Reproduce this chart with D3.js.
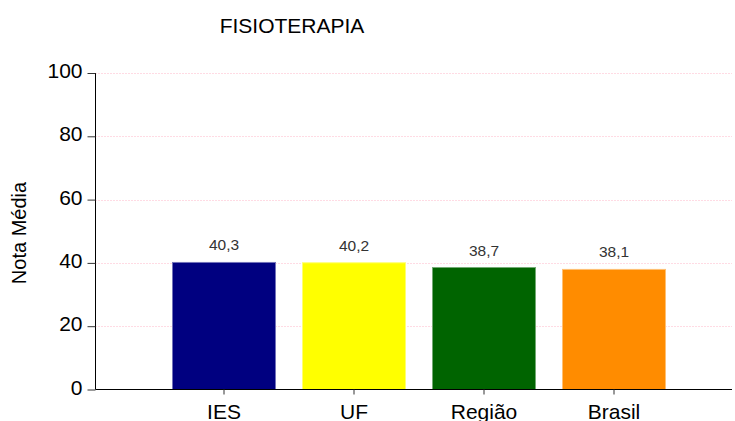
<!DOCTYPE html>
<html><head><meta charset="utf-8">
<script src="https://cdn.jsdelivr.net/npm/d3@7"></script>
<style>body{margin:0;background:#fff}svg{display:block;font-family:"Liberation Sans",Arial,sans-serif}</style>
</head><body>
<svg id="c" width="735" height="421"></svg>
<script>
const title = "FISIOTERAPIA";
const yLabel = "Nota Média";
const categories = ["IES", "UF", "Região", "Brasil"];
const values = [40.3, 40.2, 38.7, 38.1];
const valueLabels = ["40,3", "40,2", "38,7", "38,1"];
const colors = ["#000080", "#ffff00", "#006400", "#ff8c00"];
const yTicks = [0, 20, 40, 60, 80, 100];

(function () {
const svg = d3.select("#c");
const mLeft = 95.5, mRight = 732, mTop = 73, mBottom = 389.5;
const x = d3.scaleBand().domain(categories).range([159, 679]).paddingInner(0.2).paddingOuter(0.1);
const y = d3.scaleLinear().domain([0, 100]).range([mBottom, mTop]);

// gridlines
svg.append("g").selectAll("line").data(yTicks.filter(d => d > 0)).join("line")
  .attr("x1", mLeft).attr("x2", mRight)
  .attr("y1", d => Math.round(y(d)) + 0.5).attr("y2", d => Math.round(y(d)) + 0.5)
  .attr("stroke", "#ffb6c8").attr("stroke-width", 1).attr("stroke-dasharray", "1,2");

// bars
svg.append("g").selectAll("rect").data(categories).join("rect")
  .attr("x", d => x(d) + 0.5).attr("width", x.bandwidth() - 1)
  .attr("y", (d, i) => y(values[i]) + 0.5).attr("height", (d, i) => mBottom - y(values[i]) - 0.5)
  .attr("fill", (d, i) => colors[i])
  .attr("stroke", (d, i) => d3.interpolateRgb(colors[i], "#ffffff")(0.45))
  .attr("stroke-width", 1);

// value labels
svg.append("g").selectAll("text").data(categories).join("text")
  .attr("x", d => x(d) + x.bandwidth() / 2)
  .attr("y", (d, i) => y(values[i]) - 11.5)
  .attr("text-anchor", "middle").attr("font-size", 15.5).attr("fill", "#333")
  .text((d, i) => valueLabels[i]);

// y axis
const yAxis = svg.append("g").attr("transform", `translate(${mLeft},0)`)
  .call(d3.axisLeft(y).tickValues(yTicks).tickSize(8).tickPadding(5).tickFormat(d3.format("d")));
yAxis.select(".domain").attr("stroke", "#000").attr("d", `M0,${mTop}V${mBottom}`);
yAxis.selectAll(".tick line").attr("stroke", "#333");
yAxis.selectAll("text").attr("font-size", 21).attr("fill", "#000").attr("dy", "0.22em")
  .attr("font-family", "Liberation Sans, Arial, sans-serif");

// x axis
const xAxis = svg.append("g").attr("transform", `translate(0,${mBottom})`)
  .call(d3.axisBottom(x).tickSize(5).tickPadding(10));
xAxis.select(".domain").attr("stroke", "#000").attr("d", `M${mLeft},0H${mRight}`);
xAxis.selectAll(".tick line").attr("stroke", "#333");
xAxis.selectAll("text").attr("font-size", 21).attr("fill", "#000").attr("font-family", "Liberation Sans, Arial, sans-serif");

// title
svg.append("text").attr("x", 292).attr("y", 33).attr("text-anchor", "middle")
  .attr("font-size", 21).attr("fill", "#000").text(title);

// y label
svg.append("text").attr("transform", `translate(26,233) rotate(-90)`)
  .attr("text-anchor", "middle").attr("font-size", 20).attr("fill", "#000").text(yLabel);
})();
</script>
</body></html>
